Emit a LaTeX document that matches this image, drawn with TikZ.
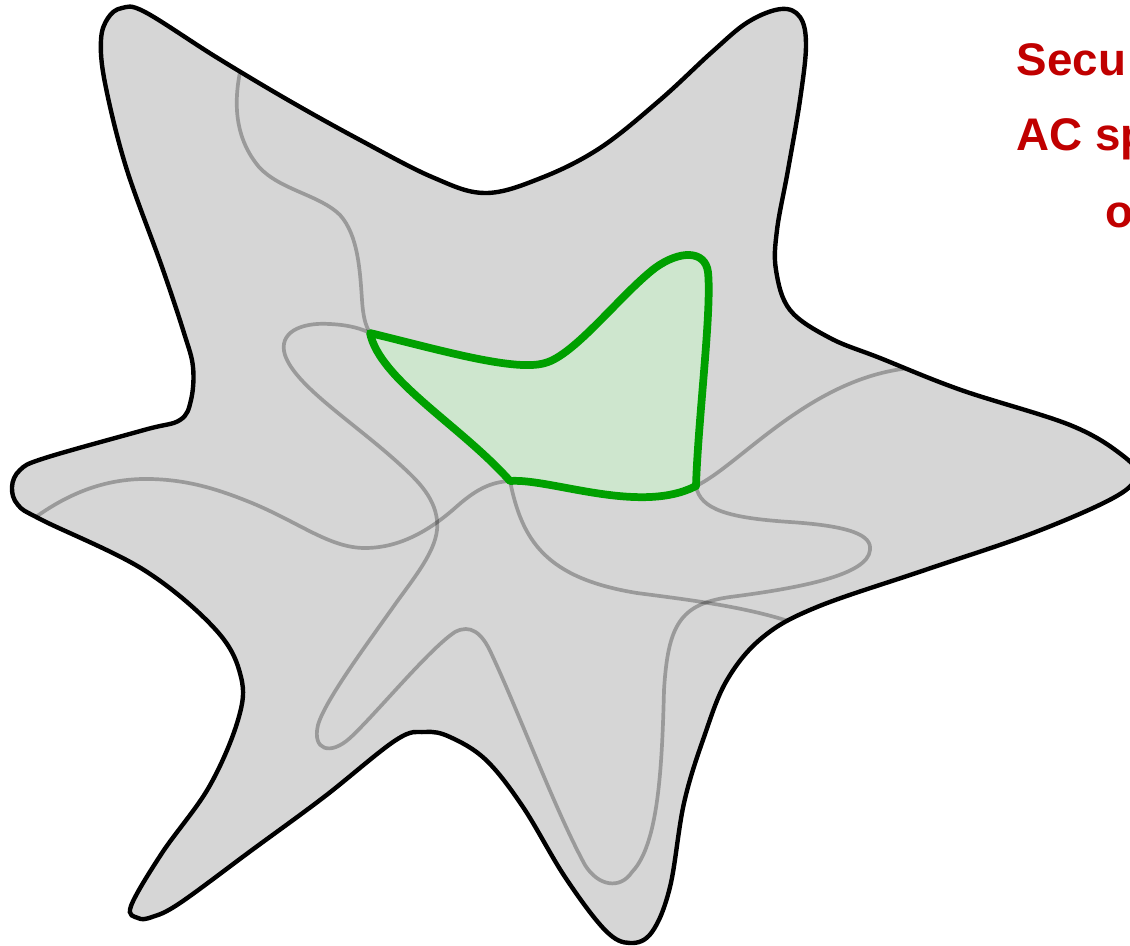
\documentclass[tikz,border=0pt]{standalone}
\usepackage{fontspec}
\usepackage{xcolor}
\usepackage{tikz}
\usetikzlibrary{positioning}
\newfontfamily\slidefont{Liberation Sans}
\definecolor{spacegray}{RGB}{214,214,214}
\definecolor{securegreen}{RGB}{0,160,0}
\definecolor{securelight}{RGB}{206,230,206}
\definecolor{slidered}{RGB}{192,0,0}

% outline of the whole space
\newcommand\starpath{plot[smooth cycle, tension=0.6] coordinates {
  (101,40) (108,18) (122,8) (145,12) (216,57) (288,100) (360,140) (432,177)
  (485,193) (541,178) (600,148) (660,100) (712,52) (748,22) (781,9) (800,17)
  (806,45) (800,100) (788,170) (777,230) (776,270) (790,310) (830,338) (880,358)
  (961,390) (1070,425) (1122,455) (1136,475) (1115,497) (1033,533) (925,570)
  (817,607) (763,637) (727,680) (704,737) (684,803) (670,887) (652,932) (630,943)
  (605,930) (565,877) (523,807) (486,760) (450,737) (425,732) (396,740) (324,797)
  (252,850) (180,903) (152,917) (138,918) (131,906) (162,853) (209,787) (238,720)
  (241,677) (216,630) (144,570) (42,520) (18,505) (12,487) (20,470) (45,458)
  (144,430) (180,420) (191,400) (193,367) (184,333) (162,267) (126,167) (105,83)}}

\begin{document}
\begin{tikzpicture}[x=0.01cm, y=-0.01cm,
  border/.style={draw=black, line width=1.25pt},
  setline/.style={draw=black, opacity=0.28, line width=1.05pt},
  secure/.style={draw=securegreen, fill=securelight, line width=2.2pt, line join=round},
  lbl/.style={font=\slidefont\bfseries\fontsize{13}{15}\selectfont, text=slidered, inner sep=0pt, anchor=base west}
]
  \useasboundingbox (0,0) rectangle (1130,945);
  \clip (0,0) rectangle (1130,945);

  % space
  \fill[spacegray] \starpath;

  % set borders
  \begin{scope}
    \clip \starpath;
    \draw[setline] (244,55) .. controls (236,85) and (228,130) .. (259,167)
      .. controls (280,190) and (320,195) .. (340,215)
      .. controls (358,235) and (360,270) .. (362,300)
      .. controls (363,315) and (365,325) .. (370,333)
      .. controls (380,380) and (460,425) .. (510,481)
      .. controls (522,540) and (545,578) .. (637,593)
      .. controls (690,600) and (750,607) .. (800,625);
    \draw[setline] (25,525) .. controls (70,490) and (110,478) .. (151,479)
      .. controls (190,480) and (220,490) .. (252,503)
      .. controls (300,523) and (330,548) .. (365,548)
      .. controls (400,548) and (430,530) .. (455,508)
      .. controls (475,490) and (490,482) .. (510,481)
      .. controls (550,478) and (640,515) .. (696,486)
      .. controls (740,465) and (810,378) .. (910,368);
    \draw[setline] (370,333) .. controls (440,350) and (515,372) .. (545,363)
      .. controls (575,355) and (620,295) .. (655,268)
      .. controls (680,250) and (705,250) .. (708,272)
      .. controls (712,310) and (698,420) .. (696,486)
      .. controls (700,510) and (730,518) .. (790,522)
      .. controls (850,526) and (872,535) .. (870,550)
      .. controls (868,575) and (800,588) .. (730,597)
      .. controls (680,604) and (668,625) .. (664,690)
      .. controls (662,770) and (658,845) .. (632,872)
      .. controls (620,890) and (598,886) .. (585,865)
      .. controls (555,810) and (520,715) .. (492,655)
      .. controls (482,632) and (470,624) .. (455,632)
      .. controls (430,648) and (375,715) .. (350,738)
      .. controls (330,756) and (312,750) .. (318,725)
      .. controls (325,700) and (370,640) .. (396,603)
      .. controls (420,570) and (440,545) .. (437,520)
      .. controls (434,495) and (415,478) .. (395,460)
      .. controls (350,420) and (295,385) .. (285,355)
      .. controls (278,333) and (300,322) .. (330,324)
      .. controls (350,325) and (362,329) .. (370,333) -- cycle;
  \end{scope}

  % secure region
  \path[secure] (370,333) .. controls (380,380) and (460,425) .. (510,481)
    .. controls (550,478) and (640,515) .. (696,486)
    .. controls (698,420) and (712,310) .. (708,272)
    .. controls (705,250) and (680,250) .. (655,268)
    .. controls (620,295) and (575,355) .. (545,363)
    .. controls (515,372) and (440,350) .. (370,333) -- cycle;

  \draw[border] \starpath;

  % labels
  \node[lbl] (secu) at (1016,75) {Secu};
  \node[lbl] (acsp) at (1016,150) {AC sp};
  \node[lbl] (ofrag) at (1105,227) {o};
\end{tikzpicture}
\end{document}
